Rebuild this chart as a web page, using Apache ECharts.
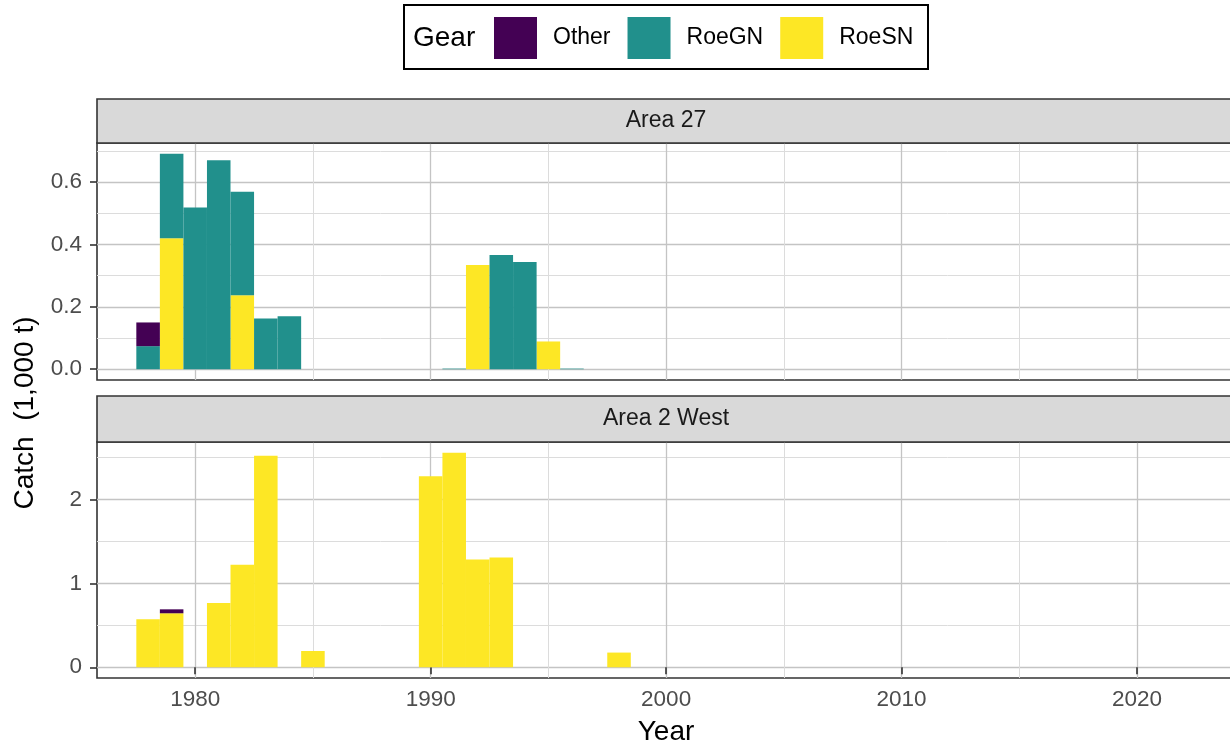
<!DOCTYPE html>
<html><head><meta charset="utf-8">
<script src="https://cdn.jsdelivr.net/npm/echarts@6/dist/echarts.min.js"></script>
<style>html,body{margin:0;padding:0;background:#fff}#c{width:1230px;height:746px}</style>
</head><body><div id="c"></div>
<script>
// ---- data (catch, 1,000 t) ----
const years       = [1978, 1979, 1980, 1981, 1982, 1983, 1984, 1985, 1990, 1991, 1992, 1993, 1994, 1995, 1996, 1998];
const area27RoeSN = [null, 0.420, null, null, 0.237, null, null, null, null, null, 0.334, null, null, 0.089, null, null];
const area27RoeGN = [0.074, 0.271, 0.519, 0.670, 0.332, 0.163, 0.170, null, null, 0.002, null, 0.366, 0.344, null, 0.002, null];
const area27Other = [0.076, null, null, null, null, null, null, null, null, null, null, null, null, null, null, null];
const area2WRoeSN = [0.571, 0.643, null, 0.766, 1.222, 2.520, null, 0.194, 2.274, 2.555, 1.282, 1.306, null, null, null, 0.175];
const area2WRoeGN = [null, null, null, null, null, null, null, null, null, null, null, null, null, null, null, null];
const area2WOther = [null, 0.047, null, null, null, null, null, null, null, null, null, null, null, null, null, null];

const panelNames  = ['Area 27', 'Area 2 West'];
const gearNames   = ['Other', 'RoeGN', 'RoeSN'];
const xTickValues = [1980, 1990, 2000, 2010, 2020];
const xMinorValues = [1975, 1985, 1995, 2005, 2015, 2025];
const yTicks27    = [0, 0.2, 0.4, 0.6];
const yMinor27    = [0.1, 0.3, 0.5, 0.7];
const yTicks2W    = [0, 1, 2];
const yMinor2W    = [0.5, 1.5, 2.5];

// ---- styling / layout ----
const FONT = '"Liberation Sans", Arial, Helvetica, sans-serif';
const gearColors = { Other: '#440154', RoeGN: '#21908C', RoeSN: '#FDE725' };
const xMin = 1975.83, xMax = 2024.16;
const gridLeft = 97, gridRight = -5;
const gridW = 1230 - gridLeft - gridRight;
const barW = gridW / (xMax - xMin);

const panelData = [
  { RoeSN: area27RoeSN, RoeGN: area27RoeGN, Other: area27Other, ticks: yTicks27, minor: yMinor27, fmt: v => v.toFixed(1) },
  { RoeSN: area2WRoeSN, RoeGN: area2WRoeGN, Other: area2WOther, ticks: yTicks2W, minor: yMinor2W, fmt: v => String(Math.round(v)) }
];
const grids = [
  { left: gridLeft, right: gridRight, top: 143, height: 237 },
  { left: gridLeft, right: gridRight, top: 442, height: 236 }
];

function yRange(p) {
  let mx = 0;
  years.forEach((y, i) => {
    const t = (p.RoeSN[i] || 0) + (p.RoeGN[i] || 0) + (p.Other[i] || 0);
    if (t > mx) mx = t;
  });
  return [-0.05 * mx, 1.05 * mx];
}

const majorLine = { show: true, lineStyle: { color: '#C4C4C4', width: 1.3 } };
const minorLine = { show: true, lineStyle: { color: '#DCDCDC', width: 1 } };

const xAxis = [], yAxis = [], series = [];
grids.forEach((g, pi) => {
  const p = panelData[pi];
  const isBottom = pi === 1;
  xAxis.push({
    type: 'value', gridIndex: pi, min: xMin, max: xMax, position: 'bottom',
    axisLine: { show: false },
    axisTick: { show: isBottom, customValues: xTickValues, length: 7, lineStyle: { color: '#333', width: 1.6 } },
    axisLabel: { show: isBottom, customValues: xTickValues, margin: 10, fontSize: 22.5, color: '#4D4D4D', fontFamily: FONT, formatter: v => String(Math.round(v)) },
    splitLine: majorLine
  });
  xAxis.push({
    type: 'value', gridIndex: pi, min: xMin, max: xMax, position: 'top',
    axisLine: { show: false },
    axisTick: { show: false, customValues: xMinorValues },
    axisLabel: { show: false, customValues: xMinorValues },
    splitLine: minorLine
  });
  const [ymn, ymx] = yRange(p);
  yAxis.push({
    type: 'value', gridIndex: pi, min: ymn, max: ymx, position: 'left',
    axisLine: { show: false },
    axisTick: { show: true, customValues: p.ticks, length: 7, lineStyle: { color: '#333', width: 1.6 } },
    axisLabel: { customValues: p.ticks, margin: 15, fontSize: 22.5, color: '#4D4D4D', fontFamily: FONT, formatter: p.fmt },
    splitLine: majorLine
  });
  yAxis.push({
    type: 'value', gridIndex: pi, min: ymn, max: ymx, position: 'right',
    axisLine: { show: false },
    axisTick: { show: false, customValues: p.minor },
    axisLabel: { show: false, customValues: p.minor },
    splitLine: minorLine
  });
  // stacking order bottom -> top: RoeSN, RoeGN, Other
  ['RoeSN', 'RoeGN', 'Other'].forEach(gear => {
    series.push({
      type: 'bar', name: gear, stack: 'panel' + pi,
      xAxisIndex: pi * 2, yAxisIndex: pi * 2,
      barWidth: barW,
      // value first so that the stacked dimension is the y (catch) dimension
      dimensions: ['catch', 'year'],
      encode: { x: 1, y: 0 },
      itemStyle: { color: gearColors[gear] },
      emphasis: { disabled: true },
      z: 3,
      data: years.map((y, i) => [p[gear][i], y])
    });
  });
});

const graphic = [
  { type: 'rect', shape: { x: 404, y: 5, width: 524, height: 64 }, style: { fill: 'none', stroke: '#000', lineWidth: 2 }, z: 10 },
  { type: 'text', x: 413, y: 38, style: { text: 'Gear', font: '28px ' + FONT, fill: '#000', textVerticalAlign: 'middle', textAlign: 'left' }, z: 10 },
  { type: 'text', x: 666, y: 732, style: { text: 'Year', font: '28px ' + FONT, fill: '#000', textAlign: 'center', textVerticalAlign: 'middle' }, z: 10 },
  { type: 'text', x: 25, y: 413, rotation: Math.PI / 2, style: { text: 'Catch  (1,000 t)', font: '28px ' + FONT, fill: '#000', textAlign: 'center', textVerticalAlign: 'middle' }, z: 10 }
];
const stripTops = [99, 396];
panelNames.forEach((nm, i) => {
  graphic.push({ type: 'rect', shape: { x: 97, y: stripTops[i], width: 1150, height: (i === 0 ? 44 : 46) }, style: { fill: '#D9D9D9', stroke: '#333', lineWidth: 1.6 }, z: 5 });
  graphic.push({ type: 'text', x: 666, y: stripTops[i] + (i === 0 ? 22 : 23), style: { text: nm, font: '23px ' + FONT, fill: '#1A1A1A', textAlign: 'center', textVerticalAlign: 'middle' }, z: 6 });
});

const chart = echarts.init(document.getElementById('c'), null, { renderer: 'canvas' });
chart.setOption({
  animation: false,
  backgroundColor: '#fff',
  textStyle: { fontFamily: FONT },
  grid: grids.map(g => Object.assign({ show: true, borderColor: '#333', borderWidth: 1.6, backgroundColor: '#fff', outerBoundsMode: 'none', containLabel: false }, g)),
  legend: {
    data: gearNames, left: 494, top: 17, orient: 'horizontal',
    icon: 'rect', itemWidth: 43, itemHeight: 42, itemGap: 17,
    textStyle: { fontSize: 23, color: '#000', fontFamily: FONT, padding: [0, 0, 0, 11] },
    selectedMode: false, padding: 0
  },
  xAxis, yAxis, series, graphic
});
</script></body></html>
